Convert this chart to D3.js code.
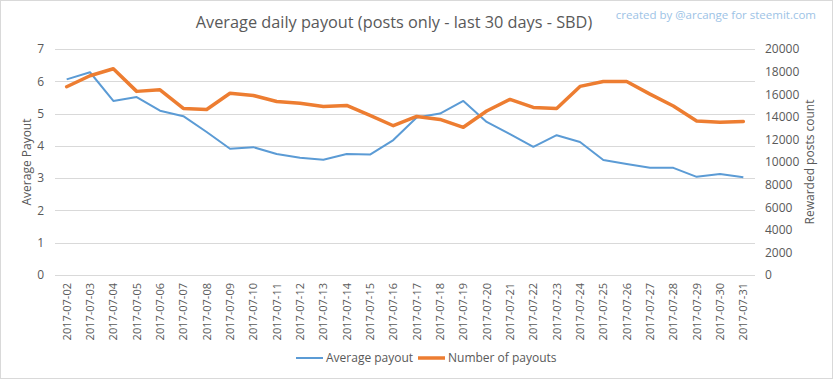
<!DOCTYPE html>
<html lang="en">
<head>
<meta charset="UTF-8">
<title>Average daily payout</title>
<script src="https://d3js.org/d3.v7.min.js"></script>
<style>
    body { margin: 0; background: #fff; }
    text { font-family: "Open Sans", "DejaVu Sans", sans-serif; fill: #595959; }
</style>
</head>
<body>
<svg id="chart" width="833" height="379"></svg>
<script>
    // data
    let dates = ["2017-07-02","2017-07-03","2017-07-04","2017-07-05","2017-07-06","2017-07-07","2017-07-08",
        "2017-07-09","2017-07-10","2017-07-11","2017-07-12","2017-07-13","2017-07-14","2017-07-15",
        "2017-07-16","2017-07-17","2017-07-18","2017-07-19","2017-07-20","2017-07-21","2017-07-22",
        "2017-07-23","2017-07-24","2017-07-25","2017-07-26","2017-07-27","2017-07-28","2017-07-29",
        "2017-07-30","2017-07-31"];
    let avgPayout = [6.06,6.28,5.39,5.51,5.09,4.92,4.43,3.91,3.96,3.75,3.63,3.57,3.75,3.73,4.18,
        4.88,5.0,5.39,4.74,4.36,3.97,4.33,4.12,3.56,3.44,3.32,3.32,3.04,3.13,3.03];
    let payoutCount = [16660,17630,18250,16250,16390,14740,14650,16080,15890,15360,15190,14920,15010,14130,13210,
        14030,13770,13070,14510,15540,14830,14740,16690,17130,17130,16010,14950,13620,13510,13590];
    let leftTicks = [0,1,2,3,4,5,6,7];
    let rightTicks = [0,2000,4000,6000,8000,10000,12000,14000,16000,18000,20000];

    let svg = d3.select("#chart");
    let W = 833, H = 379;
    let plot = {left: 55, right: 755, top: 49, bottom: 275};

    svg.append("rect")
        .attr("x", 0.5).attr("y", 0.5)
        .attr("width", W - 1).attr("height", H - 1)
        .attr("fill", "#fff").attr("stroke", "#d9d9d9");

    let x = d3.scaleBand().domain(dates).range([plot.left, plot.right]);
    let yL = d3.scaleLinear().domain([0, 7]).range([plot.bottom, plot.top]);
    let yR = d3.scaleLinear().domain([0, 20000]).range([plot.bottom, plot.top]);

    // gridlines
    svg.append("g").selectAll("line")
        .data(leftTicks)
        .join("line")
        .attr("x1", plot.left).attr("x2", plot.right)
        .attr("y1", d => Math.round(yL(d)) + 0.5)
        .attr("y2", d => Math.round(yL(d)) + 0.5)
        .attr("stroke", "#d9d9d9").attr("stroke-width", 1);

    // left axis
    let axL = svg.append("g")
        .attr("transform", `translate(${plot.left - 11},0)`)
        .call(d3.axisLeft(yL).tickValues(leftTicks).tickSize(0).tickPadding(0).tickFormat(d3.format("d")));
    axL.select(".domain").remove();
    axL.selectAll("text").style("font-size", "12px").attr("fill", "#595959");

    // right axis
    let axR = svg.append("g")
        .attr("transform", `translate(${plot.right + 10},0)`)
        .call(d3.axisRight(yR).tickValues(rightTicks).tickSize(0).tickPadding(0).tickFormat(d3.format("d")));
    axR.select(".domain").remove();
    axR.selectAll("text").style("font-size", "12px").attr("fill", "#595959");

    // x axis
    let axX = svg.append("g")
        .attr("transform", `translate(0,${plot.bottom})`)
        .call(d3.axisBottom(x).tickSize(0).tickPadding(0));
    axX.select(".domain").remove();
    axX.selectAll("text")
        .style("font-size", "11px")
        .attr("fill", "#595959")
        .attr("text-anchor", "end")
        .attr("dy", "0.35em")
        .attr("transform", "translate(0,8) rotate(-90)")
        .attr("x", 0).attr("y", 0);

    // lines
    let cx = d => x(d) + x.bandwidth() / 2;
    let lineL = d3.line().x((d, i) => cx(dates[i])).y(d => yL(d));
    let lineR = d3.line().x((d, i) => cx(dates[i])).y(d => yR(d));

    svg.append("path")
        .datum(avgPayout)
        .attr("d", lineL)
        .attr("fill", "none")
        .attr("stroke", "#5b9bd5")
        .attr("stroke-width", 2)
        .attr("stroke-linejoin", "round");

    svg.append("path")
        .datum(payoutCount)
        .attr("d", lineR)
        .attr("fill", "none")
        .attr("stroke", "#ed7d31")
        .attr("stroke-width", 3.5)
        .attr("stroke-linejoin", "round")
        .attr("stroke-linecap", "round");

    // title + credit
    svg.append("text")
        .attr("x", 394).attr("y", 28)
        .attr("text-anchor", "middle")
        .style("font-size", "16.3px")
        .text("Average daily payout (posts only - last 30 days - SBD)");

    svg.append("text")
        .attr("x", 816).attr("y", 19)
        .attr("text-anchor", "end")
        .style("font-size", "11.5px")
        .style("fill", "#9dc3e6")
        .text("created by @arcange for steemit.com");

    // axis titles
    svg.append("text")
        .attr("transform", `translate(31,${(plot.top + plot.bottom) / 2}) rotate(-90)`)
        .attr("text-anchor", "middle")
        .style("font-size", "12px")
        .text("Average Payout");

    svg.append("text")
        .attr("transform", `translate(814,${(plot.top + plot.bottom) / 2}) rotate(-90)`)
        .attr("text-anchor", "middle")
        .style("font-size", "12px")
        .text("Rewarded posts count");

    // legend
    let legend = [
        {name: "Average payout", color: "#5b9bd5", w: 2, x: 296},
        {name: "Number of payouts", color: "#ed7d31", w: 3.5, x: 418}
    ];
    let lg = svg.append("g").selectAll("g").data(legend).join("g")
        .attr("transform", d => `translate(${d.x},358)`);
    lg.append("line")
        .attr("x1", 0).attr("x2", 27)
        .attr("stroke", d => d.color).attr("stroke-width", d => d.w);
    lg.append("text")
        .attr("x", 30).attr("dy", "0.35em")
        .style("font-size", "12px")
        .text(d => d.name);
</script>
</body>
</html>
